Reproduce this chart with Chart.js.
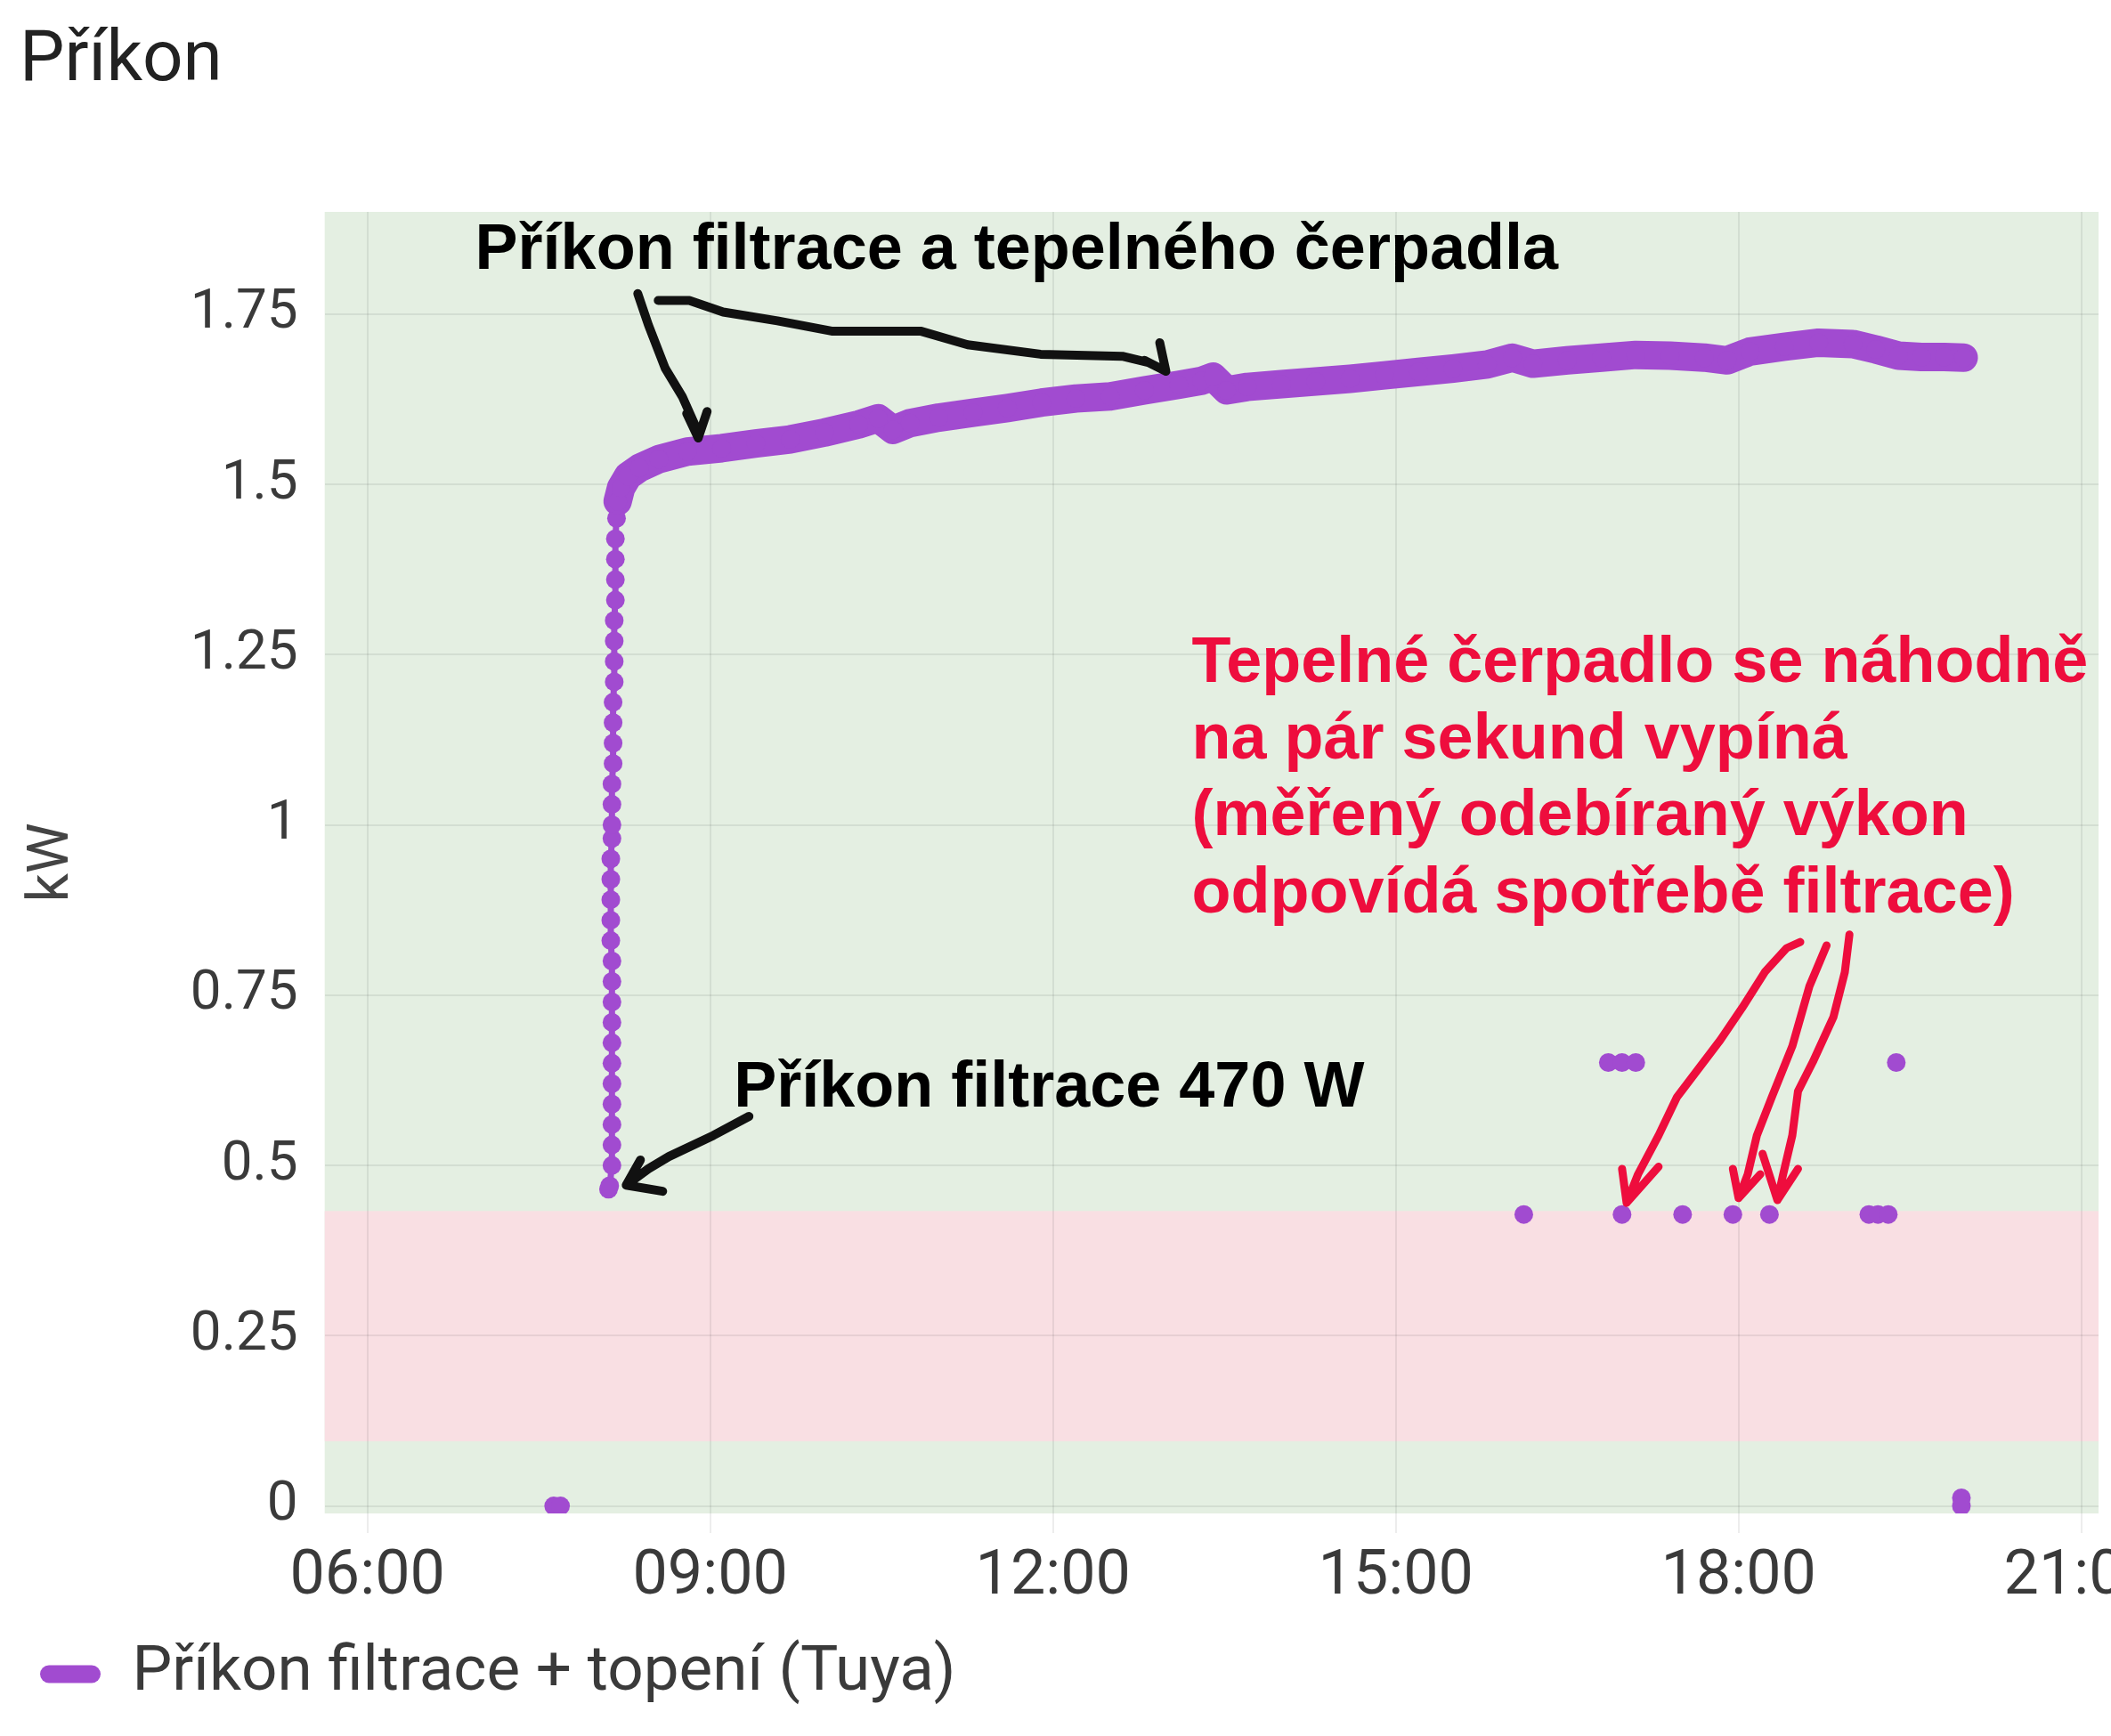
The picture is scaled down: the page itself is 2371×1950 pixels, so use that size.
<!DOCTYPE html>
<html>
<head>
<meta charset="utf-8">
<title>Příkon</title>
<script src="https://cdn.jsdelivr.net/npm/chart.js@4.4.1/dist/chart.umd.min.js"></script>
<style>
html,body{margin:0;padding:0;background:#fff;overflow:hidden}
#wrap{position:relative;width:2433px;height:1950px}
</style>
</head>
<body>
<div id="wrap"><canvas id="chart"></canvas></div>
<script>
/* ====== DATA (hours of day, kW) ====== */
const xTicks      = [6, 9, 12, 15, 18, 21];
const xTickLabels = ["06:00", "09:00", "12:00", "15:00", "18:00", "21:00"];
const yTicks      = [0, 0.25, 0.5, 0.75, 1, 1.25, 1.5, 1.75];
const yTickLabels = ["0", "0.25", "0.5", "0.75", "1", "1.25", "1.5", "1.75"];

// before start: pump off
const offTimes = [7.63, 7.69];
const offKw    = [0, 0];
// start-up: filtration only, then heat pump ramps
const riseTimes = [8.11, 8.12, 8.14, 8.14, 8.14, 8.14, 8.14, 8.14, 8.14, 8.14, 8.14, 8.14, 8.14, 8.13, 8.13, 8.13, 8.13,
                   8.13, 8.14, 8.14, 8.14, 8.14, 8.15, 8.15, 8.15, 8.15, 8.16, 8.16, 8.16, 8.16, 8.17, 8.17, 8.17, 8.17, 8.18, 8.18];
const riseKw    = [0.465, 0.47, 0.50, 0.53, 0.56, 0.59, 0.62, 0.65, 0.68, 0.71, 0.74, 0.77, 0.80, 0.83, 0.86, 0.89, 0.92,
                   0.95, 0.98, 1.00, 1.03, 1.06, 1.09, 1.12, 1.15, 1.18, 1.21, 1.24, 1.27, 1.30, 1.33, 1.36, 1.39, 1.42, 1.45, 1.47];
// filtration + heat pump running
const runTimes = [8.19, 8.22, 8.28, 8.38, 8.55, 8.8, 9.1, 9.4, 9.7, 10.0, 10.3, 10.47, 10.6, 10.75, 11.0, 11.3, 11.6, 11.9,
                  12.2, 12.5, 12.8, 13.1, 13.3, 13.4, 13.52, 13.7, 14.0, 14.3, 14.6, 14.9, 15.2, 15.5, 15.8, 16.02, 16.2,
                  16.5, 16.8, 17.1, 17.4, 17.7, 17.9, 18.1, 18.4, 18.7, 19.0, 19.2, 19.4, 19.6, 19.8, 19.97];
const runKw    = [1.475, 1.495, 1.512, 1.524, 1.537, 1.548, 1.553, 1.560, 1.566, 1.576, 1.588, 1.597, 1.580, 1.590, 1.598, 1.605, 1.612, 1.620,
                  1.626, 1.629, 1.638, 1.646, 1.652, 1.658, 1.638, 1.643, 1.647, 1.651, 1.655, 1.660, 1.665, 1.670, 1.676, 1.686, 1.677,
                  1.682, 1.686, 1.690, 1.689, 1.686, 1.682, 1.695, 1.702, 1.708, 1.706, 1.698, 1.689, 1.687, 1.687, 1.686];
// short heat pump drop-outs
const dropTimes = [16.12, 16.86, 16.98, 17.10, 16.98, 17.51, 17.95, 18.27, 19.14, 19.22, 19.31, 19.38];
const dropKw    = [0.428, 0.651, 0.651, 0.651, 0.428, 0.428, 0.428, 0.428, 0.428, 0.428, 0.428, 0.651];
// switched off
const endTimes = [19.95, 19.95];
const endKw    = [0.012, 0];

// background bands (kW)
const greenBand = [-0.011, 1.9];
const pinkBand  = [0.095, 0.433];

/* ====== ANNOTATIONS (hours, kW) ====== */
const blackNotes = [
  { text: "Příkon filtrace a tepelného čerpadla", at: [6.942, 1.816] },
  { text: "Příkon filtrace 470 W", at: [9.206, 0.587] }
];
const redNoteLines = ["Tepelné čerpadlo se náhodně", "na pár sekund vypíná", "(měřený odebíraný výkon", "odpovídá spotřebě filtrace)"];
const redNoteAt    = [13.214, 1.2104];
const redNoteStep  = 0.1129;

const blackArrows = [
  { path: [[8.366,1.780],[8.459,1.734],[8.607,1.670],[8.755,1.629],[8.872,1.585],[8.895,1.568]],
    barbs: [[8.794,1.604],[8.973,1.607]] },
  { path: [[8.545,1.770],[8.817,1.770],[9.113,1.753],[9.588,1.740],[10.062,1.725],[10.840,1.725],[11.253,1.705],
           [11.891,1.691],[12.607,1.688],[12.833,1.679],[12.988,1.666]],
    barbs: [[12.934,1.708],[12.80,1.682]] },
  { path: [[9.339,0.572],[9.027,0.544],[8.638,0.513],[8.459,0.495],[8.265,0.471]],
    barbs: [[8.389,0.508],[8.584,0.462]] }
];
const redArrows = [
  { path: [[18.54,0.828],[18.42,0.819],[18.23,0.784],[18.03,0.731],[17.84,0.684],[17.46,0.600],[17.30,0.544],[17.12,0.487],[17.02,0.445]],
    barbs: [[16.98,0.495],[17.30,0.498]] },
  { path: [[18.77,0.823],[18.62,0.763],[18.47,0.675],[18.29,0.600],[18.16,0.544],[18.08,0.487],[18.00,0.452]],
    barbs: [[17.95,0.495],[18.19,0.487]] },
  { path: [[18.97,0.839],[18.93,0.784],[18.83,0.718],[18.65,0.652],[18.52,0.609],[18.47,0.544],[18.39,0.487],[18.34,0.449]],
    barbs: [[18.21,0.517],[18.52,0.495]] }
];

/* ====== STYLE ====== */
const PURPLE = "#a14bd0";
const RED    = "#ee0d3d";
const TXT    = "#3a3a3a";
const GRID   = "rgba(0,0,0,0.07)";

/* ====== BUILD POINTS ====== */
const pts = (ts, vs) => ts.map((t, i) => ({ x: t, y: vs[i] }));
// isolated samples: a null after each one keeps them unconnected
const lone = (ts, vs) => ts.flatMap((t, i) => [{ x: t, y: vs[i] }, { x: t, y: null }]);
const points = [
  ...lone(offTimes, offKw),
  ...pts(riseTimes, riseKw), ...pts(runTimes, runKw), { x: 19.97, y: null },
  ...lone(dropTimes, dropKw),
  ...lone(endTimes, endKw)
];

/* ====== PLUGINS ====== */
const bands = {
  id: "bands",
  beforeDraw(c){
    const { ctx, chartArea: a, scales: { y } } = c;
    ctx.save();
    ctx.fillStyle = "#e4efe2";
    ctx.fillRect(a.left, y.getPixelForValue(greenBand[1]), a.width, y.getPixelForValue(greenBand[0]) - y.getPixelForValue(greenBand[1]));
    ctx.fillStyle = "#f9dfe3";
    ctx.fillRect(a.left, y.getPixelForValue(pinkBand[1]), a.width, y.getPixelForValue(pinkBand[0]) - y.getPixelForValue(pinkBand[1]));
    ctx.restore();
  }
};

function drawArrow(ctx, x, y, arr){
  ctx.beginPath();
  arr.path.forEach(([t, v], i) => i ? ctx.lineTo(x.getPixelForValue(t), y.getPixelForValue(v)) : ctx.moveTo(x.getPixelForValue(t), y.getPixelForValue(v)));
  const [tt, tv] = arr.path[arr.path.length - 1];
  const tx = x.getPixelForValue(tt), ty = y.getPixelForValue(tv);
  arr.barbs.forEach(([t, v]) => { ctx.moveTo(x.getPixelForValue(t), y.getPixelForValue(v)); ctx.lineTo(tx, ty); });
  ctx.stroke();
}

const notes = {
  id: "notes",
  afterDatasetsDraw(c){
    const { ctx, scales: { x, y } } = c;
    ctx.save();
    ctx.lineCap = "round"; ctx.lineJoin = "round";
    ctx.lineWidth = 10; ctx.strokeStyle = "#111";
    blackArrows.forEach(a => drawArrow(ctx, x, y, a));
    ctx.lineWidth = 9; ctx.strokeStyle = RED;
    redArrows.forEach(a => drawArrow(ctx, x, y, a));
    ctx.font = 'bold 72px "Liberation Sans", Arial, sans-serif';
    ctx.textBaseline = "alphabetic"; ctx.textAlign = "left";
    ctx.fillStyle = "#000";
    blackNotes.forEach(n => ctx.fillText(n.text, x.getPixelForValue(n.at[0]), y.getPixelForValue(n.at[1])));
    ctx.fillStyle = RED;
    redNoteLines.forEach((l, i) => ctx.fillText(l, x.getPixelForValue(redNoteAt[0]), y.getPixelForValue(redNoteAt[1] - i * redNoteStep)));
    ctx.restore();
  }
};

/* ====== CHART ====== */
new Chart(document.getElementById("chart"), {
  type: "line",
  data: {
    datasets: [{
      label: "Příkon filtrace + topení (Tuya)",
      data: points,
      borderColor: PURPLE,
      backgroundColor: PURPLE,
      borderWidth: 32,
      borderCapStyle: "round",
      borderJoinStyle: "round",
      pointRadius: 10.5,
      pointBorderWidth: 0,
      pointBackgroundColor: PURPLE,
      tension: 0,
      spanGaps: false,
      segment: {
        // the start-up column is a string of separate samples
        borderWidth: s => (Math.abs(s.p1.parsed.x - s.p0.parsed.x) < 0.025 ? 7 : undefined)
      }
    }]
  },
  options: {
    responsive: true,
    maintainAspectRatio: false,
    devicePixelRatio: 1,
    animation: false,
    layout: { padding: { left: 22, right: 0, top: 0, bottom: 24 } },
    plugins: {
      title: {
        display: true, text: "Příkon", align: "start", color: "#222",
        font: { family: "Roboto", size: 80, weight: "400" },
        padding: { top: 22, bottom: 120 }
      },
      legend: {
        position: "bottom", align: "start",
        labels: {
          boxWidth: 68, boxHeight: 20, useBorderRadius: true, borderRadius: 10,
          padding: 23, color: TXT,
          font: { family: "Roboto", size: 71 },
          generateLabels: c => Chart.defaults.plugins.legend.labels.generateLabels(c).map(l => ({ ...l, lineWidth: 0 }))
        }
      },
      tooltip: { enabled: false }
    },
    scales: {
      x: {
        type: "linear", min: 5.626, max: 21.15,
        afterBuildTicks: s => { s.ticks = xTicks.map(v => ({ value: v })); },
        ticks: {
          callback: v => xTickLabels[xTicks.indexOf(v)],
          color: TXT, font: { family: "Roboto", size: 70 },
          padding: 8, maxRotation: 0, autoSkip: false
        },
        grid: { color: GRID, lineWidth: 2, tickLength: 22, drawTicks: true },
        border: { display: false }
      },
      y: {
        min: greenBand[0], max: greenBand[1],
        afterBuildTicks: s => { s.ticks = yTicks.map(v => ({ value: v })); },
        ticks: {
          callback: v => yTickLabels[yTicks.indexOf(v)],
          color: TXT, font: { family: "Roboto", size: 62 }, padding: 30
        },
        grid: { color: GRID, lineWidth: 2, drawTicks: false },
        border: { display: false },
        title: {
          display: true, text: "kW", color: "#444",
          font: { family: "Roboto", size: 64 },
          padding: { top: 0, bottom: 85 }
        }
      }
    }
  },
  plugins: [bands, notes]
});
</script>
</body>
</html>
